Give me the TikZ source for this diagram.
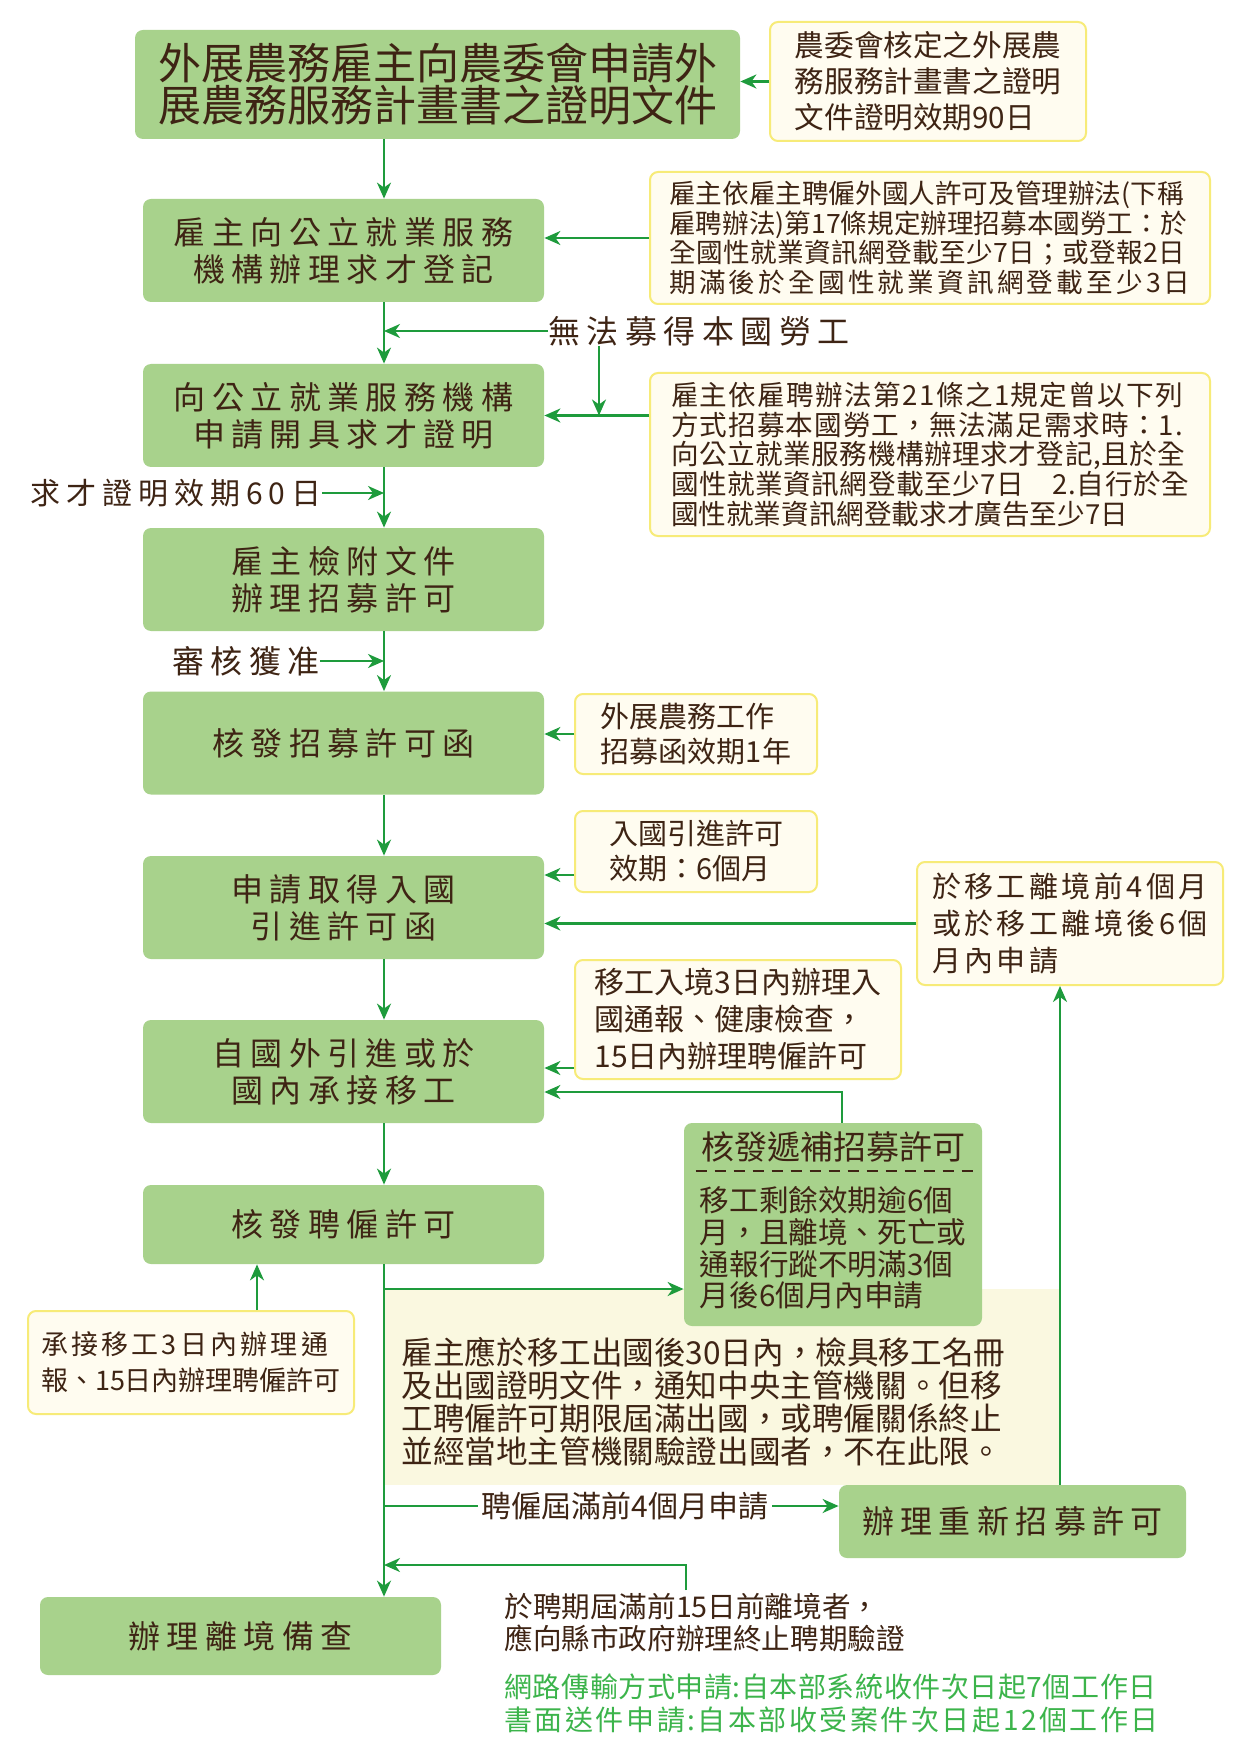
\documentclass[tikz,border=0pt]{standalone}
\usepackage{fontspec}
\setmainfont{Noto Sans CJK TC}
\newfontfamily\cjk{Noto Sans CJK TC}
\newfontfamily\cjkw[LetterSpace=20]{Noto Sans CJK TC}
\newfontfamily\cjkn[LetterSpace=12]{Noto Sans CJK TC}
\definecolor{boxgreen}{RGB}{168, 210, 140}
\definecolor{textbrown}{RGB}{62, 36, 20}
\definecolor{flowgreen}{RGB}{30, 155, 60}
\definecolor{notefill}{RGB}{255, 252, 240}
\definecolor{noteline}{RGB}{247, 235, 120}
\definecolor{regionfill}{RGB}{250, 248, 224}
\definecolor{infogreen}{RGB}{60, 180, 75}
\usetikzlibrary{arrows.meta,positioning}
\newcommand{\track}[2]{{\addfontfeatures{LetterSpace=#1}#2}}

\begin{document}
\begin{tikzpicture}[x=0.5pt,y=-0.5pt,
    mainbox/.style={rounded corners=4pt,fill=boxgreen,text=textbrown,align=center,
      inner sep=0pt,minimum width=200.5pt,minimum height=51.5pt,
      font=\cjkw\fontsize{16}{18.5}\selectfont},
    notebox/.style={rounded corners=4pt,fill=notefill,draw=noteline,line width=1pt,
      text=textbrown,align=left,inner sep=0pt},
    plain/.style={text=textbrown,inner sep=0pt,align=left},
    flow/.style={draw=flowgreen,line width=1.1pt,-{Stealth[length=8pt,width=7pt,inset=2.5pt]}}]
  \useasboundingbox (0,0) rectangle (1242,1754);
  \fill[white] (0,0) rectangle (1242,1754);

  % shaded area under the permit
  \fill[regionfill] (384,1289) rectangle (1060,1485);

  \coordinate (trunk) at (384,0);

  % main column
  \node[mainbox,minimum width=302.5pt,minimum height=54.5pt,
    font=\cjk\fontsize{21.5}{21}\selectfont] (apply) at (437.5,84.5)
    {外展農務雇主向農委會申請外\\展農務服務計畫書之證明文件};
  \node[mainbox] (register) at (343.5,250.5) {雇主向公立就業服務\\機構辦理求才登記};
  \node[mainbox] (certify) at (343.5,415.5) {向公立就業服務機構\\申請開具求才證明};
  \node[mainbox] (permitdoc) at (343.5,579.5) {雇主檢附文件\\辦理招募許可};
  \node[mainbox] (recruit) at (343.5,743) {核發招募許可函};
  \node[mainbox] (entry) at (343.5,907.5) {申請取得入國\\引進許可函};
  \node[mainbox] (intro) at (343.5,1071.5) {自國外引進或於\\國內承接移工};
  \node[mainbox,minimum height=39.5pt] (hire) at (343.5,1224.5) {核發聘僱許可};
  \node[mainbox,minimum height=39pt] (depart) at (240.5,1636) {辦理離境備查};
  \node[mainbox,minimum width=173.5pt,minimum height=36.5pt] (renew) at (1012.5,1521.5) {辦理重新招募許可};

  % replacement permit
  \node[mainbox,minimum width=149pt,minimum height=101.5pt] (replace) at (833,1224.5) {};
  \node[plain,font=\cjk\fontsize{16.5}{18}\selectfont] (replacetitle) at (833,1147) {核發遞補招募許可};
  \draw[textbrown,line width=1pt,dash pattern=on 5.5pt off 4pt]
    ([xshift=6pt,yshift=-24pt]replace.north west) -- ([xshift=-3.5pt,yshift=-24pt]replace.north east);
  \node[plain,font=\cjk\fontsize{14.8}{15.8}\selectfont] (replacebody) at (833,1248)
    {移工剩餘效期逾6個\\月，且離境、死亡或\\通報行蹤不明滿3個\\月後6個月內申請};

  % notes
  \node[notebox,minimum width=158pt,minimum height=59.5pt,font=\cjk\fontsize{14.8}{18}\selectfont]
    (notecoa) at (928,81.5) {農委會核定之外展農\\務服務計畫書之證明\\文件證明效期90日};
  \node[notebox,minimum width=280pt,minimum height=66pt,font=\cjk\fontsize{13.3}{14.8}\selectfont]
    (notereg) at (930,238) {雇主依雇主聘僱外國人許可及管理辦法(下稱\\雇聘辦法)第17條規定辦理招募本國勞工：於\\\track{1.5}{全國性就業資訊網登載至少7日；或登報2日}\\\track{12}{期滿後於全國性就業資訊網登載至少3日}};
  \node[notebox,minimum width=280pt,minimum height=81.5pt,font=\cjk\fontsize{13.8}{14.8}\selectfont]
    (notecert) at (930,454.5) {\track{5}{雇主依雇聘辦法第21條之1規定曾以下列}\\\track{4}{方式招募本國勞工，無法滿足需求時：1.}\\\track{2}{向公立就業服務機構辦理求才登記,且於全}\\\track{2}{國性就業資訊網登載至少7日　2.自行於全}\\國性就業資訊網登載求才廣告至少7日};
  \node[notebox,minimum width=121pt,minimum height=40pt,font=\cjk\fontsize{14.5}{17.5}\selectfont]
    (noterec) at (696,734) {外展農務工作\\招募函效期1年};
  \node[notebox,minimum width=121pt,minimum height=40.5pt,font=\cjk\fontsize{14.5}{17.5}\selectfont]
    (noteentry) at (696,851.5) {入國引進許可\\效期：6個月};
  \node[notebox,minimum width=153pt,minimum height=61.5pt,font=\cjkn\fontsize{14.5}{18.5}\selectfont]
    (notedepart) at (1070,923.5) {於移工離境前4個月\\或於移工離境後6個\\月內申請};
  \node[notebox,minimum width=163pt,minimum height=59.5pt,font=\cjk\fontsize{15}{18.5}\selectfont]
    (noteintro) at (738,1019.5) {移工入境3日內辦理入\\國通報、健康檢查，\\15日內辦理聘僱許可};
  \node[notebox,minimum width=163pt,minimum height=51.5pt,font=\cjk\fontsize{13.5}{18}\selectfont]
    (notetake) at (191,1362.5) {{\cjkn 承接移工3日內辦理通}\\報、15日內辦理聘僱許可};

  % free texts
  \node[plain,font=\cjkw\fontsize{16}{18}\selectfont] (nolabor) at (699,331) {無法募得本國勞工};
  \node[plain,anchor=east,font=\cjkw\fontsize{15}{18}\selectfont] (valid) at (322,493) {求才證明效期60日};
  \node[plain,anchor=east,font=\cjkw\fontsize{16}{18}\selectfont] (approved) at (320,661) {審核獲准};
  \node[plain,anchor=west,font=\cjk\fontsize{15.8}{16.5}\selectfont] (notice) at (401,1402)
    {雇主應於移工出國後30日內，檢具移工名冊\\及出國證明文件，通知中央主管機關。但移\\工聘僱許可期限屆滿出國，或聘僱關係終止\\並經當地主管機關驗證出國者，不在此限。};
  \node[plain,anchor=west,font=\cjk\fontsize{14.3}{16}\selectfont] (leave) at (504,1623)
    {於聘期屆滿前15日前離境者，\\應向縣市政府辦理終止聘期驗證};
  \node[plain,anchor=west,text=infogreen,font=\cjk\fontsize{14}{16.5}\selectfont] (timing) at (504,1703)
    {\track{2}{網路傳輸方式申請:自本部系統收件次日起7個工作日}\\\track{9}{書面送件申請:自本部收受案件次日起12個工作日}};

  % connectors
  \draw[flow] (apply.south -| trunk) -- (register.north -| trunk);
  \draw[flow] (notecoa.west) -- (notecoa.west -| apply.east);
  \draw[flow] (notereg.west) -- (notereg.west -| register.east);
  \draw[flow] (register.south -| trunk) -- (certify.north -| trunk);
  \draw[flow] (nolabor.west) -- (nolabor.west -| trunk);
  \coordinate (join) at (599,415.5);
  \draw[flow] (nolabor.south -| join) -- (join);
  \draw[flow] (notecert.west |- certify.east) -- (certify.east);
  \draw[flow] (certify.south -| trunk) -- (permitdoc.north -| trunk);
  \draw[flow] (valid.east) -- (valid.east -| trunk);
  \draw[flow] (permitdoc.south -| trunk) -- (recruit.north -| trunk);
  \draw[flow] (approved.east) -- (approved.east -| trunk);
  \draw[flow] (noterec.west) -- (noterec.west -| recruit.east);
  \draw[flow] (recruit.south -| trunk) -- (entry.north -| trunk);
  \draw[flow] ([yshift=9pt]noteentry.south west) -- ([yshift=9pt]noteentry.south west -| entry.east);
  \draw[flow] (notedepart.west) -- (notedepart.west -| entry.east);
  \draw[flow] (entry.south -| trunk) -- (intro.north -| trunk);
  \draw[flow] ([yshift=6pt]noteintro.south west) -- ([yshift=6pt]noteintro.south west -| intro.east);
  \draw[flow] ([xshift=4.5pt]replace.north) |- ([yshift=-10.25pt]intro.east);
  \draw[flow] (intro.south -| trunk) -- (hire.north -| trunk);
  \coordinate (takex) at (257,0);
  \draw[flow] (notetake.north -| takex) -- (hire.south -| takex);
  \draw[flow] (hire.south -| trunk) -- (depart.north -| trunk);
  \coordinate (branch) at (384,1289);
  \draw[flow] (branch) -- (branch -| replace.west);
  \coordinate (rehire) at (384,1506);
  \draw[flow] (rehire) -- node[pos=0.53,plain,fill=white,inner sep=2pt,
    font=\cjk\fontsize{15}{18}\selectfont] (renewlbl) {聘僱屆滿前4個月申請} (rehire -| renew.west);
  \coordinate (upx) at (1060,0);
  \draw[flow] (renew.north -| upx) -- (notedepart.south -| upx);
  \coordinate (backx) at (686,1590);
  \coordinate (back) at (384,1565);
  \draw[flow] (backx) |- (back);
\end{tikzpicture}
\end{document}
